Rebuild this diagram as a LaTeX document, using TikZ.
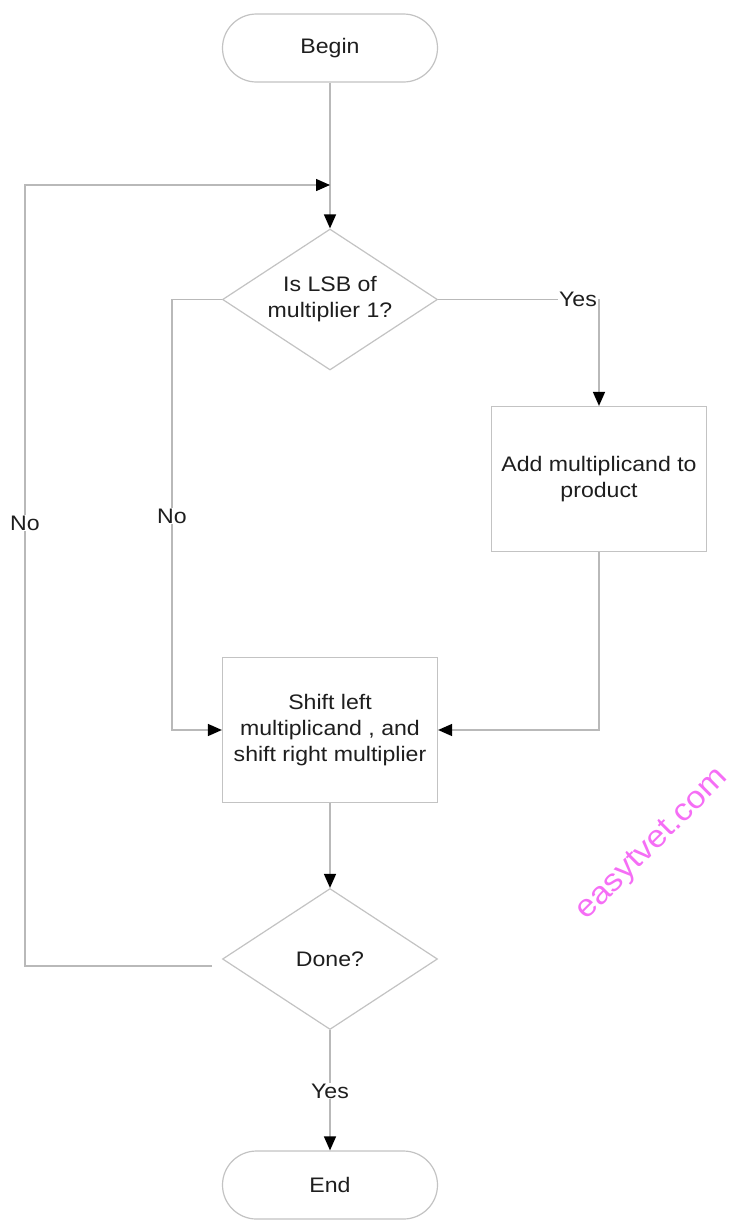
\documentclass[tikz,border=0pt]{standalone}
\usepackage{fontspec}
\setmainfont{Liberation Sans}[FakeStretch=1.1]
\usetikzlibrary{shapes.geometric,shapes.misc,arrows.meta}
\definecolor{edgegray}{RGB}{185,185,185}
\definecolor{boxgray}{RGB}{195,195,195}
\definecolor{inkdark}{RGB}{30,30,30}
\definecolor{markpink}{RGB}{245,110,245}
\begin{document}
\begin{tikzpicture}[x=1pt,y=-1pt,
  every node/.style={text=inkdark,font=\fontsize{21}{26}\selectfont},
  terminal/.style={rounded rectangle,draw=boxgray,line width=1.2pt,fill=white,
    minimum width=215pt,minimum height=68pt,inner sep=0pt},
  process/.style={rectangle,draw=boxgray,line width=1.2pt,fill=white,
    minimum width=215pt,minimum height=145pt,inner sep=0pt,align=center},
  decision/.style={diamond,draw=boxgray,line width=1.2pt,fill=white,
    minimum width=215pt,minimum height=141pt,inner sep=0pt,
    label={[align=center,text=inkdark,font=\fontsize{21}{26}\selectfont]center:#1}},
  flow/.style={draw=edgegray,line width=1.4pt,
    -{Triangle[length=14pt,width=12pt,color=black]}},
  tag/.style={fill=white,inner sep=1pt}]
\useasboundingbox (0,0) rectangle (736,1221);

% shapes
\node[terminal] (begin) at (330,48) {Begin};
\node[decision={Is LSB of\\multiplier 1?}] (lsb) at (330,299.5) {};
\node[process] (add) at (599,479) {Add multiplicand to\\product};
\node[process] (shift) at (330,730) {Shift left\\multiplicand , and\\shift right multiplier};
\node[decision={Done?}] (done) at (330,959) {};
\node[terminal] (end) at (330,1185) {End};

% junction points
\coordinate (merge) at (330,185);
\coordinate (doneout) at (212,966);

% main flow
\draw[flow] (begin.south) -- (lsb.north);
\draw[flow] (lsb.east) -| (add.north);
\draw[flow] (add.south) |- (shift.east);
\draw[flow] (lsb.west) -- (172,299.5) |- (shift.west);
\draw[flow] (shift.south) -- (done.north);
\draw[flow] (done.south) -- (end.north);
\draw[flow] (doneout) -| (25,185) -- (merge);

% branch labels
\node[tag] (yes1) at (578,299) {Yes};
\node[tag] (no1) at (172,516) {No};
\node[tag] (no2) at (25,523) {No};
\node[tag] (yes2) at (330,1091) {Yes};

% watermark
\node[text=markpink,font=\fontsize{31}{31}\selectfont,rotate=45] (mark) at (653,845) {easytvet.com};
\end{tikzpicture}
\end{document}
